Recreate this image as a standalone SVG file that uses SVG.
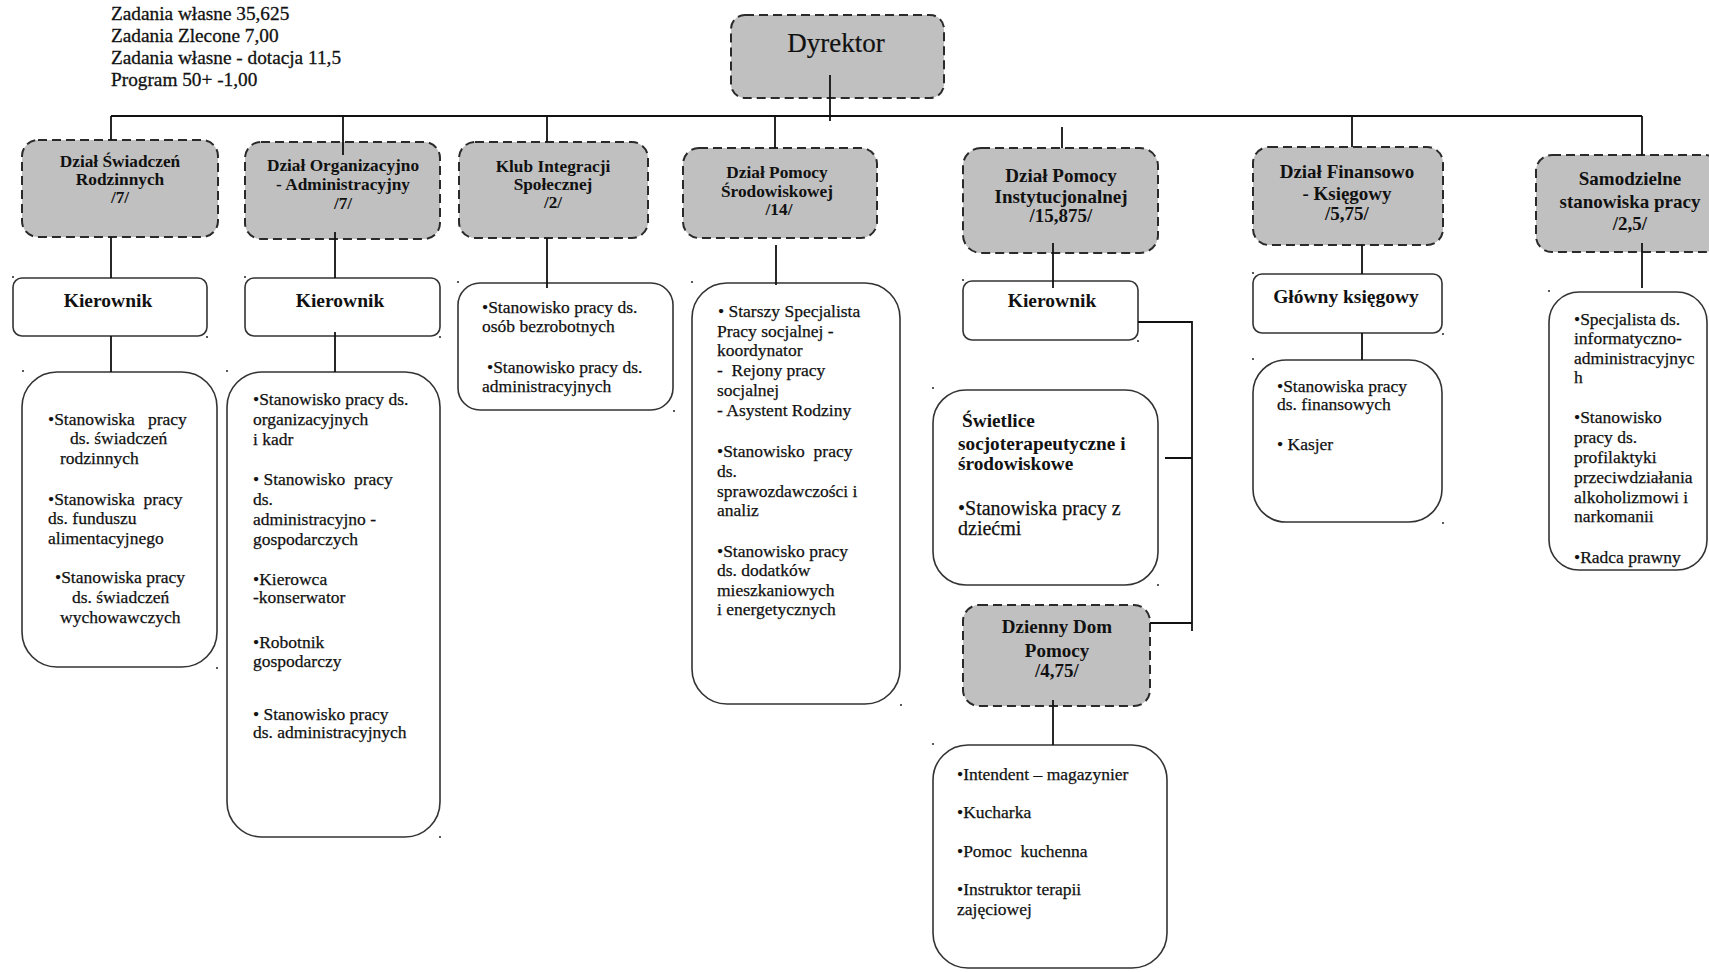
<svg xmlns="http://www.w3.org/2000/svg" width="1709" height="972" viewBox="0 0 1709 972">
<style>
text{font-family:"Liberation Serif","Times New Roman",serif;fill:#111;white-space:pre}
.h{font-size:19.3px;stroke:#111;stroke-width:0.3}
.d{font-size:17.3px;font-weight:bold;text-anchor:middle}
.d19{font-size:19px;font-weight:bold;text-anchor:middle}
.k{font-size:19.5px;font-weight:bold;text-anchor:middle}
.r{font-size:17.5px;stroke:#111;stroke-width:0.25}
.sb{font-size:19.3px;font-weight:bold}
.dept{fill:#c0c0c0;stroke:#2a2a2a;stroke-width:2;stroke-dasharray:9 5}
.box{fill:#fff;stroke:#333;stroke-width:1.6}
.ln{stroke:#111;stroke-width:1.8;fill:none}
.dot{fill:#222}
</style>

<g id="header">
<text class="h" x="111" y="20">Zadania własne 35,625</text>
<text class="h" x="111" y="42">Zadania Zlecone 7,00</text>
<text class="h" x="111" y="64">Zadania własne - dotacja 11,5</text>
<text class="h" x="111" y="86">Program 50+ -1,00</text>
</g>

<g id="dyrektor">
<rect class="dept" x="731" y="15" width="213" height="83" rx="14"/>
<text x="836" y="52" style="font-size:27px;text-anchor:middle;stroke:#111;stroke-width:0.2">Dyrektor</text>
</g>

<g id="dzial-swiadczen">
<rect class="dept" x="22" y="140" width="196" height="97" rx="16"/>
<text class="d" x="120" y="167">Dział Świadczeń</text>
<text class="d" x="120" y="185">Rodzinnych</text>
<text class="d" x="120" y="203">/7/</text>
</g>
<g id="kier-swiadczen">
<rect class="box" x="13" y="278" width="194" height="58" rx="9"/>
<text class="k" x="108" y="307">Kierownik</text>
</g>
<g id="list-swiadczen">
<rect class="box" x="22" y="372" width="195" height="295" rx="35"/>
<text class="r" x="48" y="425">•Stanowiska   pracy</text>
<text class="r" x="70" y="444">ds. świadczeń</text>
<text class="r" x="60" y="464">rodzinnych</text>
<text class="r" x="48" y="505">•Stanowiska  pracy</text>
<text class="r" x="48" y="524">ds. funduszu</text>
<text class="r" x="48" y="544">alimentacyjnego</text>
<text class="r" x="55" y="583">•Stanowiska pracy</text>
<text class="r" x="72" y="603">ds. świadczeń</text>
<text class="r" x="60" y="623">wychowawczych</text>
</g>

<g id="dzial-org">
<rect class="dept" x="245" y="142" width="195" height="97" rx="16"/>
<text class="d" x="343" y="171">Dział Organizacyjno</text>
<text class="d" x="343" y="190">- Administracyjny</text>
<text class="d" x="343" y="209">/7/</text>
</g>
<g id="kier-org">
<rect class="box" x="245" y="278" width="195" height="58" rx="9"/>
<text class="k" x="340" y="307">Kierownik</text>
</g>
<g id="list-org">
<rect class="box" x="227" y="372" width="213" height="465" rx="35"/>
<text class="r" x="253" y="405">•Stanowisko pracy ds.</text>
<text class="r" x="253" y="425">organizacyjnych</text>
<text class="r" x="253" y="445">i kadr</text>
<text class="r" x="253" y="485">• Stanowisko  pracy</text>
<text class="r" x="253" y="505">ds.</text>
<text class="r" x="253" y="525">administracyjno -</text>
<text class="r" x="253" y="545">gospodarczych</text>
<text class="r" x="253" y="585">•Kierowca</text>
<text class="r" x="253" y="603">-konserwator</text>
<text class="r" x="253" y="648">•Robotnik</text>
<text class="r" x="253" y="667">gospodarczy</text>
<text class="r" x="253" y="720">• Stanowisko pracy</text>
<text class="r" x="253" y="738">ds. administracyjnych</text>
</g>

<g id="klub">
<rect class="dept" x="459" y="142" width="189" height="96" rx="16"/>
<text class="d" x="553" y="172">Klub Integracji</text>
<text class="d" x="553" y="190">Społecznej</text>
<text class="d" x="553" y="208">/2/</text>
</g>
<g id="list-klub">
<rect class="box" x="458" y="283" width="215" height="127" rx="22"/>
<text class="r" x="482" y="313">•Stanowisko pracy ds.</text>
<text class="r" x="482" y="332">osób bezrobotnych</text>
<text class="r" x="487" y="373">•Stanowisko pracy ds.</text>
<text class="r" x="482" y="392">administracyjnych</text>
</g>

<g id="dzial-srod">
<rect class="dept" x="683" y="148" width="194" height="90" rx="16"/>
<text class="d" x="777" y="178">Dział Pomocy</text>
<text class="d" x="777" y="197">Środowiskowej</text>
<text class="d" x="779" y="215">/14/</text>
</g>
<g id="list-srod">
<rect class="box" x="692" y="283" width="208" height="421" rx="35"/>
<text class="r" x="718" y="317">• Starszy Specjalista</text>
<text class="r" x="717" y="337">Pracy socjalnej -</text>
<text class="r" x="717" y="356">koordynator</text>
<text class="r" x="717" y="376">-  Rejony pracy</text>
<text class="r" x="717" y="396">socjalnej</text>
<text class="r" x="717" y="416">- Asystent Rodziny</text>
<text class="r" x="717" y="457">•Stanowisko  pracy</text>
<text class="r" x="717" y="477">ds.</text>
<text class="r" x="717" y="497">sprawozdawczości i</text>
<text class="r" x="717" y="516">analiz</text>
<text class="r" x="717" y="557">•Stanowisko pracy</text>
<text class="r" x="717" y="576">ds. dodatków</text>
<text class="r" x="717" y="596">mieszkaniowych</text>
<text class="r" x="717" y="615">i energetycznych</text>
</g>

<g id="dzial-inst">
<rect class="dept" x="963" y="148" width="195" height="105" rx="18"/>
<text class="d19" x="1061" y="182">Dział Pomocy</text>
<text class="d19" x="1061" y="203">Instytucjonalnej</text>
<text class="d19" x="1061" y="222">/15,875/</text>
</g>
<g id="kier-inst">
<rect class="box" x="963" y="281" width="175" height="59" rx="9"/>
<text class="k" x="1052" y="307">Kierownik</text>
</g>
<g id="swietlice">
<rect class="box" x="933" y="390" width="225" height="195" rx="33"/>
<text class="sb" x="962" y="427">Świetlice</text>
<text class="sb" x="958" y="450">socjoterapeutyczne i</text>
<text class="sb" x="958" y="470">środowiskowe</text>
<text class="r" x="958" y="515" style="font-size:20px">•Stanowiska pracy z</text>
<text class="r" x="958" y="535" style="font-size:20px">dziećmi</text>
</g>
<g id="ddp">
<rect class="dept" x="963" y="605" width="187" height="101" rx="16"/>
<text class="d19" x="1057" y="633">Dzienny Dom</text>
<text class="d19" x="1057" y="657">Pomocy</text>
<text class="d19" x="1057" y="677">/4,75/</text>
</g>
<g id="list-ddp">
<rect class="box" x="933" y="745" width="234" height="223" rx="35"/>
<text class="r" x="957" y="780">•Intendent – magazynier</text>
<text class="r" x="957" y="818">•Kucharka</text>
<text class="r" x="957" y="857">•Pomoc  kuchenna</text>
<text class="r" x="957" y="895">•Instruktor terapii</text>
<text class="r" x="957" y="915">zajęciowej</text>
</g>

<g id="dzial-fin">
<rect class="dept" x="1253" y="147" width="190" height="98" rx="16"/>
<text class="d19" x="1347" y="178">Dział Finansowo</text>
<text class="d19" x="1347" y="200">- Księgowy</text>
<text class="d19" x="1347" y="220">/5,75/</text>
</g>
<g id="gl-ksiegowy">
<rect class="box" x="1253" y="274" width="189" height="59" rx="9"/>
<text class="k" x="1346" y="303">Główny księgowy</text>
</g>
<g id="list-fin">
<rect class="box" x="1253" y="360" width="189" height="162" rx="33"/>
<text class="r" x="1277" y="392">•Stanowiska pracy</text>
<text class="r" x="1277" y="410">ds. finansowych</text>
<text class="r" x="1277" y="450">• Kasjer</text>
</g>

<g id="samodzielne">
<rect class="dept" x="1536" y="155" width="185" height="97" rx="16"/>
<text class="d19" x="1630" y="185">Samodzielne</text>
<text class="d19" x="1630" y="208">stanowiska pracy</text>
<text class="d19" x="1630" y="230">/2,5/</text>
</g>
<g id="list-samodzielne">
<rect class="box" x="1549" y="292" width="158" height="278" rx="30"/>
<text class="r" x="1574" y="325">•Specjalista ds.</text>
<text class="r" x="1574" y="344">informatyczno-</text>
<text class="r" x="1574" y="364">administracyjnyc</text>
<text class="r" x="1574" y="383">h</text>
<text class="r" x="1574" y="423">•Stanowisko</text>
<text class="r" x="1574" y="443">pracy ds.</text>
<text class="r" x="1574" y="463">profilaktyki</text>
<text class="r" x="1574" y="483">przeciwdziałania</text>
<text class="r" x="1574" y="503">alkoholizmowi i</text>
<text class="r" x="1574" y="522">narkomanii</text>
<text class="r" x="1574" y="563">•Radca prawny</text>
</g>

<g id="connectors">
<path class="ln" d="M111 116H1642"/>
<path class="ln" d="M830 75V121"/>
<path class="ln" d="M111 116V140M343 116V155M547 116V142M775 116V148M1062 127V148M1352 116V147M1642 116V155"/>
<path class="ln" d="M111 237V278M111 336V372"/>
<path class="ln" d="M335 232V278M335 332V372"/>
<path class="ln" d="M547 238V288"/>
<path class="ln" d="M776 245V285"/>
<path class="ln" d="M1053 243V288"/>
<path class="ln" d="M1138 322H1192V631M1165 458H1192M1150 623H1192"/>
<path class="ln" d="M1053 700V745"/>
<path class="ln" d="M1362 245V274M1362 333V360"/>
<path class="ln" d="M1642 243V288"/>
</g>

<g id="marks">
<circle class="dot" cx="13" cy="277" r="1"/><circle class="dot" cx="207" cy="337" r="1"/>
<circle class="dot" cx="23" cy="371" r="1"/><circle class="dot" cx="217" cy="668" r="1"/>
<circle class="dot" cx="245" cy="277" r="1"/><circle class="dot" cx="440" cy="337" r="1"/>
<circle class="dot" cx="227" cy="371" r="1"/><circle class="dot" cx="440" cy="837" r="1"/>
<circle class="dot" cx="458" cy="282" r="1"/><circle class="dot" cx="674" cy="411" r="1"/>
<circle class="dot" cx="692" cy="282" r="1"/><circle class="dot" cx="901" cy="705" r="1"/>
<circle class="dot" cx="963" cy="280" r="1"/><circle class="dot" cx="1138" cy="341" r="1"/>
<circle class="dot" cx="933" cy="388" r="1"/><circle class="dot" cx="1158" cy="585" r="1"/>
<circle class="dot" cx="933" cy="744" r="1"/>
<circle class="dot" cx="1253" cy="273" r="1"/><circle class="dot" cx="1443" cy="334" r="1"/>
<circle class="dot" cx="1253" cy="359" r="1"/><circle class="dot" cx="1443" cy="523" r="1"/>
<circle class="dot" cx="1549" cy="291" r="1"/>
</g>
</svg>
